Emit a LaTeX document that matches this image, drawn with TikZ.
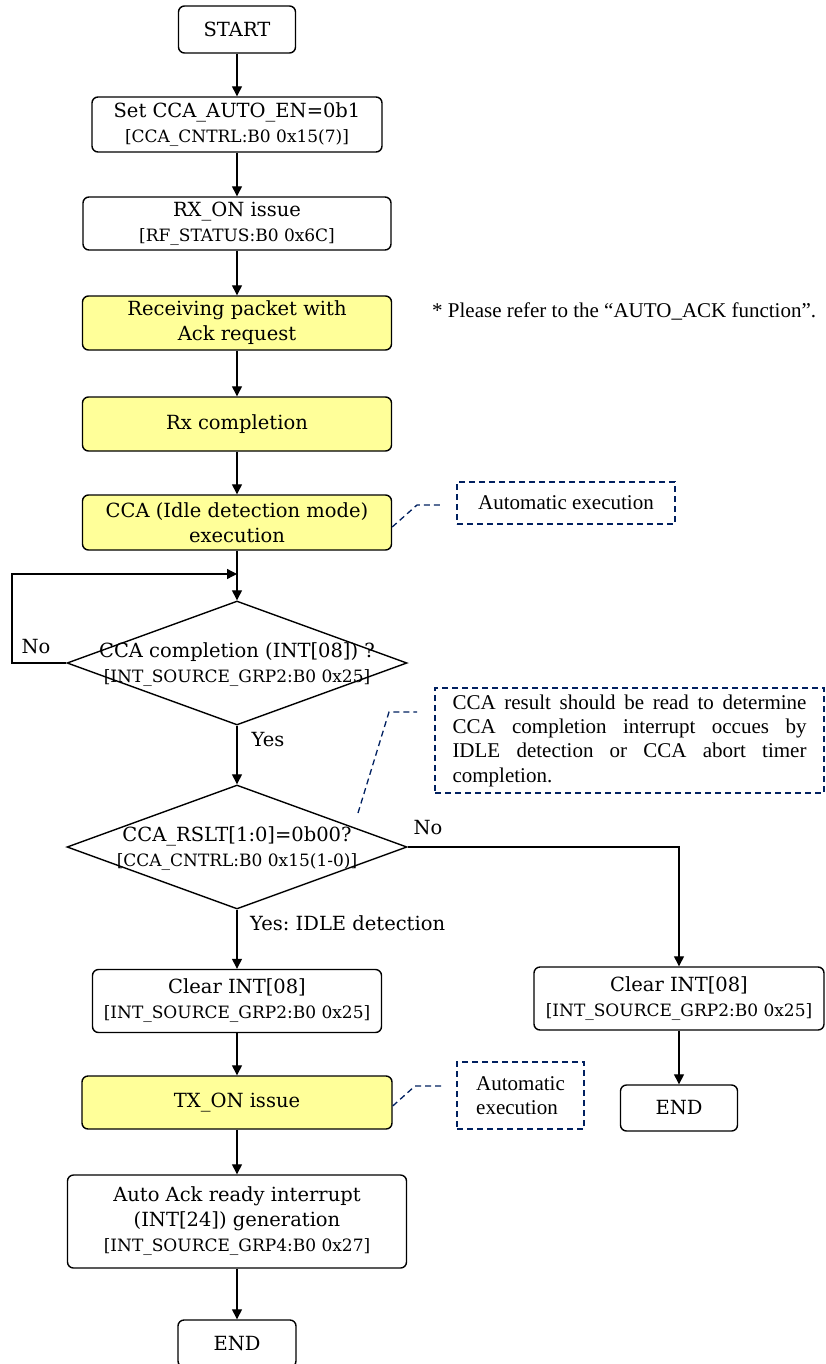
\documentclass[tikz,border=0pt]{standalone}
\usepackage{fontspec}
\setmainfont{DejaVu Serif}
\newfontfamily\tnr{Liberation Serif}
\usetikzlibrary{shapes.geometric,arrows.meta}
\definecolor{yel}{RGB}{255,255,153}
\definecolor{navy}{RGB}{0,32,96}
\newcommand\mainsz{\fontsize{19.5}{25}\selectfont}
\newcommand\smsz{\fontsize{17}{22}\selectfont}
\newcommand\notesz{\fontsize{21}{24.3}\selectfont}
\frenchspacing
\tikzset{
 box/.style={draw, line width=1.4pt, rounded corners=6pt, align=center, inner sep=0pt, font=\mainsz},
 ybox/.style={box, fill=yel},
 dia/.style={draw, diamond, line width=1.4pt, inner sep=0pt},
 arr/.style={line width=1.3pt, -{Triangle[length=10pt,width=10pt]}},
 note/.style={draw=navy, line width=1.3pt, dash pattern=on 6pt off 4pt},
 notetext/.style={font=\tnr\notesz, inner sep=0pt},
 lbl/.style={font=\mainsz, inner sep=0pt},
}
\begin{document}
\begin{tikzpicture}[x=1pt,y=-1pt]
\useasboundingbox (0,0) rectangle (826,1364);
% main column
\node[box, minimum width=117pt, minimum height=47pt] (start) at (237,29.5) {START};
\node[box, minimum width=290pt, minimum height=55pt] (set) at (237,124.5) {Set CCA\_AUTO\_EN=0b1\\{\smsz [CCA\_CNTRL:B0 0x15(7)]}};
\node[box, minimum width=308pt, minimum height=53pt] (rxon) at (237,223.5) {RX\_ON issue\\{\smsz [RF\_STATUS:B0 0x6C]}};
\node[ybox, minimum width=309pt, minimum height=54pt] (recv) at (237,323) {Receiving packet with\\Ack request};
\node[ybox, minimum width=309pt, minimum height=54pt] (rxc) at (237,424) {Rx completion};
\node[ybox, minimum width=309pt, minimum height=55pt] (cca) at (237,522.5) {CCA (Idle detection mode)\\execution};
\node[dia, minimum width=340pt, minimum height=124pt] (d1) at (237,663) {};
\node[lbl, align=center] (d1t) at (237,665) {CCA completion (INT[08]) ?\\{\smsz [INT\_SOURCE\_GRP2:B0 0x25]}};
\node[dia, minimum width=340pt, minimum height=124pt] (d2) at (237,847) {};
\node[lbl, align=center] (d2t) at (237,849) {CCA\_RSLT[1:0]=0b00?\\{\smsz [CCA\_CNTRL:B0 0x15(1-0)]}};
\node[box, minimum width=289pt, minimum height=63pt] (clr1) at (237,1001) {Clear INT[08]\\{\smsz [INT\_SOURCE\_GRP2:B0 0x25]}};
\node[ybox, minimum width=310pt, minimum height=53pt] (tx) at (237,1102.5) {TX\_ON issue};
\node[box, minimum width=339pt, minimum height=93pt] (auto) at (237,1221.5) {Auto Ack ready interrupt\\(INT[24]) generation\\{\smsz [INT\_SOURCE\_GRP4:B0 0x27]}};
\node[box, minimum width=118pt, minimum height=47pt] (end1) at (237,1343.5) {END};
% right column
\node[box, minimum width=290pt, minimum height=63pt] (clr2) at (679,998.5) {Clear INT[08]\\{\smsz [INT\_SOURCE\_GRP2:B0 0x25]}};
\node[box, minimum width=117pt, minimum height=46pt] (end2) at (679,1108) {END};
% labels
\node[lbl] (no1) at (36,647) {No};
\node[lbl] (yes1) at (268,740) {Yes};
\node[lbl] (no2) at (428,828) {No};
\node[lbl, anchor=west] (yes2) at (250,923) {Yes: IDLE detection};
% side notes
\node[notetext, anchor=west] (ref) at (432,311) {* Please refer to the “AUTO\_ACK function”.};
\node[note, notetext, minimum width=218pt, minimum height=42pt] (a1) at (566,503) {Automatic execution};
\node[note, notetext, minimum width=389pt, minimum height=105pt, text width=354pt, align=justify] (a2) at (629.5,740.5) {CCA result should be read to determine\linebreak CCA completion interrupt occues by\linebreak IDLE detection or CCA abort timer\linebreak completion.};
\node[note, notetext, minimum width=127pt, minimum height=67pt, align=left] (a3) at (520.5,1095.5) {Automatic\\execution};
% connectors
\draw[arr] (start.south) -- (set.north);
\draw[arr] (set.south) -- (rxon.north);
\draw[arr] (rxon.south) -- (recv.north);
\draw[arr] (recv.south) -- (rxc.north);
\draw[arr] (rxc.south) -- (cca.north);
\draw[arr] (cca.south) -- (d1.north);
\coordinate (j1) at (237,574);
\coordinate (lp) at (12,663);
\draw[arr] (d1.west) -- (lp) |- (j1);
\draw[arr] (d1.south) -- (d2.north);
\draw[arr] (d2.south) -- (clr1.north);
\draw[arr] (d2.east) -| (clr2.north);
\draw[arr] (clr1.south) -- (tx.north);
\draw[arr] (tx.south) -- (auto.north);
\draw[arr] (auto.south) -- (end1.north);
\draw[arr] (clr2.south) -- (end2.north);
% note leaders
\coordinate (c1a) at (417,505);
\coordinate (c1b) at (442,505);
\draw[note] ([yshift=-4.5pt]cca.east) -- (c1a) -- (c1b);
\coordinate (c2s) at (358,813);
\coordinate (c2a) at (389,712);
\coordinate (c2b) at (417,712);
\draw[note] (c2s) -- (c2a) -- (c2b);
\coordinate (c3a) at (415,1086);
\coordinate (c3b) at (443,1086);
\draw[note] ([yshift=-3.5pt]tx.east) -- (c3a) -- (c3b);
\end{tikzpicture}
\end{document}
